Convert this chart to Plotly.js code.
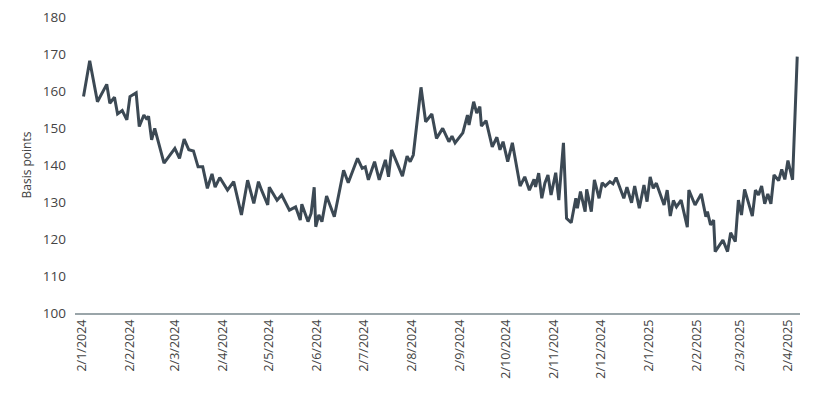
<!DOCTYPE html>
<html>
<head>
<meta charset="utf-8">
<script src="https://cdn.plot.ly/plotly-3.0.1.min.js"></script>
<style>html,body{margin:0;padding:0;background:#fff;}#chart{width:821px;height:395px;}</style>
</head>
<body>
<div id="chart"></div>
<script>
var dates = [
"2024-01-03","2024-01-07","2024-01-12","2024-01-18","2024-01-20","2024-01-23","2024-01-25","2024-01-28","2024-01-31",
"2024-02-02","2024-02-06","2024-02-08","2024-02-11","2024-02-13","2024-02-14","2024-02-16","2024-02-18","2024-02-24",
"2024-03-02","2024-03-05","2024-03-08","2024-03-11","2024-03-14","2024-03-17","2024-03-20","2024-03-23","2024-03-26","2024-03-28","2024-03-31",
"2024-04-05","2024-04-09","2024-04-14","2024-04-18","2024-04-22","2024-04-25","2024-04-27",
"2024-05-01","2024-05-02","2024-05-07","2024-05-10","2024-05-15","2024-05-19","2024-05-22","2024-05-23","2024-05-27","2024-05-29","2024-05-31",
"2024-06-01","2024-06-03","2024-06-05","2024-06-08","2024-06-13","2024-06-19","2024-06-22","2024-06-28",
"2024-07-01","2024-07-03","2024-07-05","2024-07-09","2024-07-12","2024-07-16","2024-07-18","2024-07-20","2024-07-27","2024-07-30",
"2024-08-01","2024-08-03","2024-08-08","2024-08-11","2024-08-15","2024-08-18","2024-08-22","2024-08-26","2024-08-28","2024-08-30",
"2024-09-04","2024-09-07","2024-09-08","2024-09-11","2024-09-13","2024-09-15","2024-09-16","2024-09-19","2024-09-23","2024-09-26","2024-09-28","2024-09-30",
"2024-10-03","2024-10-06","2024-10-11","2024-10-14","2024-10-17","2024-10-20","2024-10-21","2024-10-23","2024-10-25","2024-10-27","2024-10-29","2024-10-31",
"2024-11-03","2024-11-05","2024-11-08","2024-11-10","2024-11-13","2024-11-16","2024-11-17","2024-11-19","2024-11-22","2024-11-23","2024-11-26","2024-11-28",
"2024-12-01","2024-12-03","2024-12-05","2024-12-08","2024-12-10","2024-12-12","2024-12-17","2024-12-19","2024-12-22","2024-12-24","2024-12-27","2024-12-30",
"2025-01-01","2025-01-03","2025-01-05","2025-01-07","2025-01-12","2025-01-14","2025-01-16","2025-01-18","2025-01-20","2025-01-23","2025-01-27","2025-01-28",
"2025-02-01","2025-02-05","2025-02-08","2025-02-09","2025-02-11","2025-02-13","2025-02-14","2025-02-19","2025-02-22","2025-02-24","2025-02-27",
"2025-03-01","2025-03-03","2025-03-05","2025-03-10","2025-03-12","2025-03-14","2025-03-16","2025-03-18","2025-03-20","2025-03-22","2025-03-24","2025-03-27","2025-03-29","2025-03-31",
"2025-04-02","2025-04-05","2025-04-08"
];
var basisPoints = [
158.5,168.2,157.1,161.8,156.7,158.3,153.8,154.7,152.2,
158.5,159.5,150.4,153.5,152.3,153.2,146.8,149.9,140.5,
144.5,141.8,147.0,144.1,143.8,139.5,139.5,133.7,137.6,134.0,136.6,
133.2,135.5,126.5,135.9,129.6,135.5,133.2,
129.2,134.0,130.5,131.9,127.8,128.7,125.1,129.4,124.7,126.9,134.0,
123.3,126.5,124.7,131.6,126.0,138.6,135.2,141.8,
139.1,139.5,136.0,140.9,136.0,141.4,136.8,144.1,137.0,142.4,
140.9,142.7,161.0,151.7,153.8,147.2,149.9,146.3,147.8,146.0,
148.7,153.5,150.8,157.1,154.0,155.8,150.5,152.0,144.9,147.5,144.1,146.3,
140.9,146.0,134.3,136.8,133.2,136.1,134.1,137.8,131.0,135.1,137.3,131.9,
137.9,130.5,146.0,125.6,124.4,131.0,128.3,132.8,127.4,133.4,127.4,136.0,
131.0,135.2,134.3,135.5,134.9,136.6,131.0,134.0,129.8,134.3,128.3,134.6,
130.1,136.8,133.7,135.1,129.2,133.2,126.2,130.4,128.7,130.5,123.2,133.2,
129.2,132.2,126.0,127.4,123.8,125.1,116.6,119.7,116.6,121.7,119.3,
130.5,126.5,133.4,126.2,133.2,131.9,134.3,129.5,132.2,129.5,137.3,135.8,138.8,136.1,
141.2,136.0,169.3
];
var tickDates = ["2024-01-02","2024-02-02","2024-03-02","2024-04-02","2024-05-02","2024-06-02","2024-07-02","2024-08-02","2024-09-02","2024-10-02","2024-11-02","2024-12-02","2025-01-02","2025-02-02","2025-03-02","2025-04-02"];
var tickLabels = ["2/1/2024","2/2/2024","2/3/2024","2/4/2024","2/5/2024","2/6/2024","2/7/2024","2/8/2024","2/9/2024","2/10/2024","2/11/2024","2/12/2024","2/1/2025","2/2/2025","2/3/2025","2/4/2025"];
var yTicks = [100,110,120,130,140,150,160,170,180];

var trace = {
  x: dates, y: basisPoints, type: 'scatter', mode: 'lines',
  line: {color: '#3c4954', width: 3}, hoverinfo: 'x+y'
};
var layout = {
  width: 821, height: 395,
  margin: {l: 75, r: 21, t: 17, b: 82},
  paper_bgcolor: '#ffffff', plot_bgcolor: '#ffffff',
  font: {family: '"Open Sans", sans-serif', color: '#444444', size: 13},
  showlegend: false,
  xaxis: {
    type: 'date',
    range: ['2023-12-28 12:00', '2025-04-09 19:00'],
    tickmode: 'array', tickvals: tickDates, ticktext: tickLabels,
    tickangle: -90, showgrid: false, zeroline: false,
    showline: true, linecolor: '#9aa5a9', linewidth: 1.5,
    ticks: '', tickfont: {size: 12.5, color: '#444444'}
  },
  yaxis: {
    range: [100, 180], tickmode: 'array', tickvals: yTicks,
    showgrid: false, zeroline: false, showline: false, ticks: '',
    ticklabelstandoff: 8,
    tickfont: {size: 13.5, color: '#444444'},
    title: {text: 'Basis points', font: {size: 12, color: '#444444'}, standoff: 8}
  }
};
Plotly.newPlot('chart', [trace], layout, {displayModeBar: false, staticPlot: true});
</script>
</body>
</html>
